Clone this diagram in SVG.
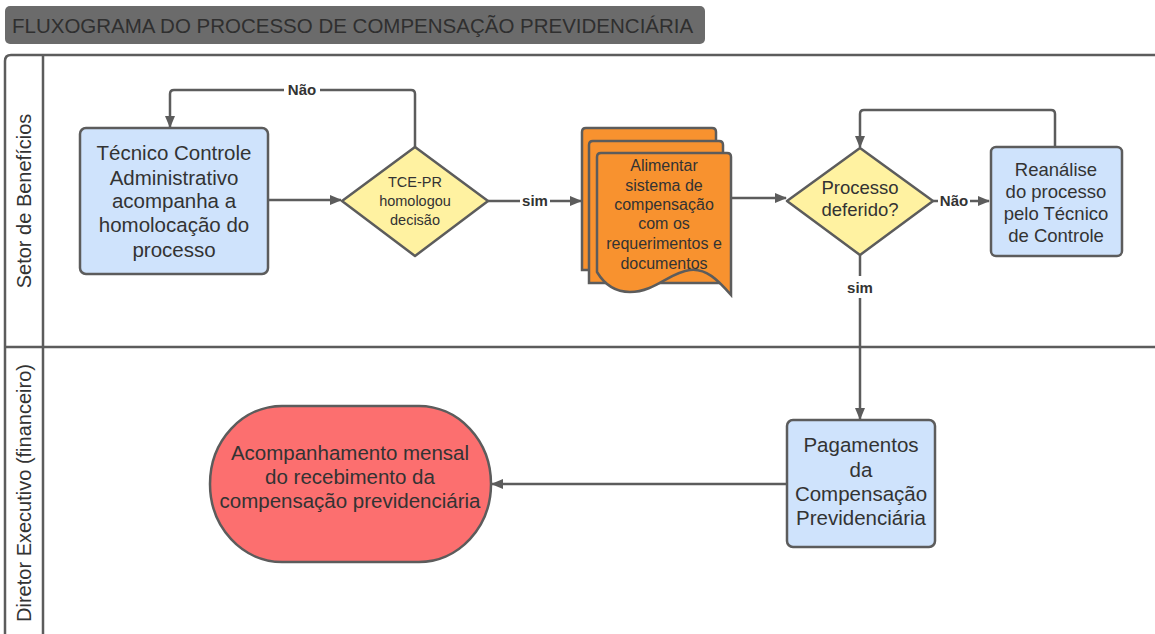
<svg xmlns="http://www.w3.org/2000/svg" width="1155" height="634" viewBox="0 0 1155 634">
<defs>
<style>
.ln{fill:none;stroke:#5c5c5c;stroke-width:2.5}
.sh{stroke:#5c5c5c;stroke-width:2.5}
.t{font-family:"Liberation Sans",Arial,sans-serif;fill:#333;text-anchor:middle}
.b{font-weight:bold;font-size:15px}
.blue{fill:#cfe3fc}
.yel{fill:#fff2a1}
.org{fill:#f8922f}
.red{fill:#fc6f6f}
</style>
<marker id="ah" viewBox="0 0 12 12" refX="11" refY="6" markerWidth="12" markerHeight="12" markerUnits="userSpaceOnUse" orient="auto">
<path d="M0,1 L12,6 L0,11 Z" fill="#5c5c5c"/>
</marker>
</defs>
<rect width="1155" height="634" fill="#fff"/>
<g id="title">
<rect x="5" y="6" width="700" height="38" rx="5" fill="#6b6b6b"/>
<text x="12" y="33" font-family="&quot;Liberation Sans&quot;,Arial,sans-serif" font-size="20.5" fill="#2f2f2f">FLUXOGRAMA DO PROCESSO DE COMPENSAÇÃO PREVIDENCIÁRIA</text>
</g>
<g id="lanes">
<path class="ln" d="M1160,55 L11,55 Q5,55 5,61 L5,640"/>
<line class="ln" x1="43" y1="55" x2="43" y2="640"/>
<line class="ln" x1="5" y1="347" x2="1160" y2="347"/>
<text class="t" font-size="20" transform="translate(31,201) rotate(-90)">Setor de Benefícios</text>
<text class="t" font-size="20" transform="translate(31,493) rotate(-90)">Diretor Executivo (financeiro)</text>
</g>
<g id="connectors">
<line class="ln" x1="268" y1="200" x2="341" y2="200" marker-end="url(#ah)"/>
<path class="ln" d="M415,147 L415,94 Q415,90 411,90 L174,90 Q170,90 170,94 L170,127" marker-end="url(#ah)"/>
<rect x="284" y="82" width="36" height="16" fill="#fff"/>
<text class="t b" x="302" y="95">Não</text>
<line class="ln" x1="488" y1="201" x2="581" y2="201" marker-end="url(#ah)"/>
<rect x="520" y="193" width="30" height="16" fill="#fff"/>
<text class="t b" x="535" y="206">sim</text>
<line class="ln" x1="731" y1="198" x2="786" y2="198" marker-end="url(#ah)"/>
<line class="ln" x1="933" y1="201" x2="989" y2="201" marker-end="url(#ah)"/>
<rect x="938" y="193" width="32" height="16" fill="#fff"/>
<text class="t b" x="954" y="206">Não</text>
<path class="ln" d="M1055,147 L1055,114 Q1055,110 1051,110 L864,110 Q860,110 860,114 L860,147" marker-end="url(#ah)"/>
<line class="ln" x1="860" y1="255" x2="860" y2="419" marker-end="url(#ah)"/>
<rect x="844" y="276" width="32" height="22" fill="#fff"/>
<text class="t b" x="860" y="293">sim</text>
<line class="ln" x1="786" y1="484" x2="492" y2="484" marker-end="url(#ah)"/>
</g>
<g id="n1">
<rect class="sh blue" x="80" y="128" width="188" height="146" rx="6"/>
<text class="t" font-size="20.5"><tspan x="174" y="160">Técnico Controle</tspan><tspan x="174" y="185">Administrativo</tspan><tspan x="174" y="208">acompanha a</tspan><tspan x="174" y="232">homolocação do</tspan><tspan x="174" y="257">processo</tspan></text>
</g>
<g id="d1">
<path class="sh yel" d="M415,147 L488,201 L415,256 L342,201 Z" stroke-linejoin="round"/>
<text class="t" font-size="14.5"><tspan x="415" y="187">TCE-PR</tspan><tspan x="415" y="206">homologou</tspan><tspan x="415" y="225">decisão</tspan></text>
</g>
<g id="doc">
<path class="sh org" d="M582,132 Q582,128 586,128 L712,128 Q716,128 716,132 L716,270 L582,270 Z"/>
<path class="sh org" d="M589,145 Q589,141 593,141 L719,141 Q723,141 723,145 L723,283 L589,283 Z"/>
<path class="sh org" d="M597,157 Q597,153 601,153 L727,153 Q731,153 731,157 L731,295 C718,280 706,268 690,270 C670,272 655,292 630,292 C612,292 603,282 597,272 Z"/>
<text class="t" font-size="16"><tspan x="664" y="171">Alimentar</tspan><tspan x="664" y="191">sistema de</tspan><tspan x="664" y="210">compensação</tspan><tspan x="664" y="229">com os</tspan><tspan x="664" y="249">requerimentos e</tspan><tspan x="664" y="269">documentos</tspan></text>
</g>
<g id="d2">
<path class="sh yel" d="M860,148 L933,201 L860,255 L787,201 Z" stroke-linejoin="round"/>
<text class="t" font-size="18.5"><tspan x="860" y="194">Processo</tspan><tspan x="860" y="216">deferido?</tspan></text>
</g>
<g id="n2">
<rect class="sh blue" x="991" y="147" width="131" height="109" rx="5"/>
<text class="t" font-size="18.5"><tspan x="1056" y="176">Reanálise</tspan><tspan x="1056" y="198">do processo</tspan><tspan x="1056" y="220">pelo Técnico</tspan><tspan x="1056" y="242">de Controle</tspan></text>
</g>
<g id="n3">
<rect class="sh blue" x="787" y="420" width="148" height="127" rx="6"/>
<text class="t" font-size="20.5"><tspan x="861" y="452">Pagamentos</tspan><tspan x="861" y="477">da</tspan><tspan x="861" y="501">Compensação</tspan><tspan x="861" y="525">Previdenciária</tspan></text>
</g>
<g id="n4">
<rect class="sh red" x="210" y="406" width="281" height="156" rx="72" ry="78"/>
<text class="t" font-size="20.5"><tspan x="350" y="460">Acompanhamento mensal</tspan><tspan x="350" y="484">do recebimento da</tspan><tspan x="350" y="508">compensação previdenciária</tspan></text>
</g>
</svg>
